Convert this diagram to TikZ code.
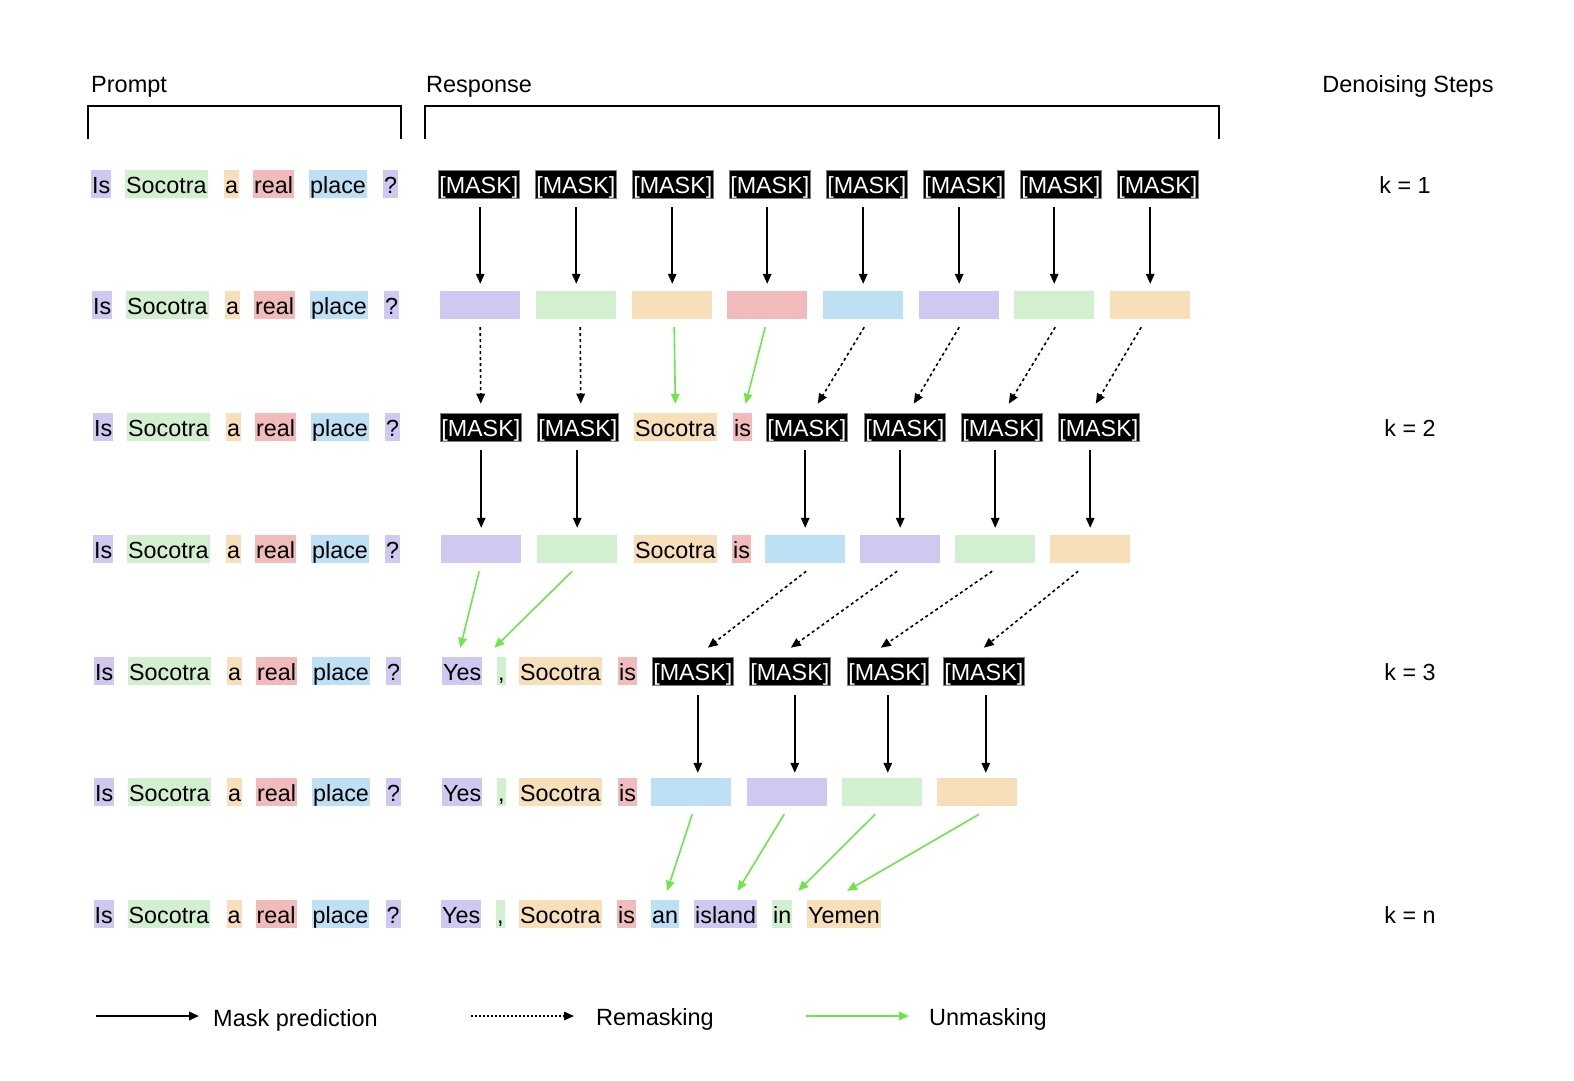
\documentclass[tikz,border=0pt]{standalone}
\usepackage{fontspec}
\setmainfont{Liberation Sans}
\usetikzlibrary{arrows.meta,calc}
\definecolor{cP}{RGB}{208,200,240}
\definecolor{cG}{RGB}{210,240,208}
\definecolor{cO}{RGB}{247,223,186}
\definecolor{cR}{RGB}{242,187,187}
\definecolor{cB}{RGB}{190,224,245}
\definecolor{cGreen}{RGB}{110,230,75}
\newcommand\tokfont{\fontsize{23.3}{28}\selectfont}
\newcommand\lblfont{\fontsize{23.5}{28}\selectfont}
\newcommand\linkarrow[5]{\draw[#1] ($(#2.south)+(#3,8)$) -- ($(#4.north)+(#5,-9)$);}
\begin{document}
\begin{tikzpicture}[x=1pt,y=-1pt,
  tok/.style={inner xsep=1pt,inner ysep=0pt,text height=20.5pt,text depth=2pt,minimum height=28pt,anchor=west,font=\tokfont},
  lbl/.style={tok,font=\lblfont},
  mask/.style={tok,fill=black,text=white,draw=gray,line width=0.6pt},
  blank/.style={anchor=west,minimum width=80pt,minimum height=28pt,inner sep=0pt},
  pred/.style={line width=1.6pt,-{Triangle[length=10pt,width=8.5pt]}},
  remask/.style={pred,dash pattern=on 3pt off 3pt},
  unmask/.style={pred,color=cGreen}]
\useasboundingbox[fill=white] (0,0) rectangle (1574,1080);

% headers
\node[lbl,anchor=base west] (lp) at (90,92) {Prompt};
\node[lbl,anchor=base west] (lr) at (425,92) {Response};
\node[lbl,anchor=base] (ld) at (1408,92) {Denoising Steps};
\draw[line width=1.6pt] (88,139) -- (88,106) -- (401,106) -- (401,139);
\draw[line width=1.6pt] (425,139) -- (425,106) -- (1219,106) -- (1219,139);

% prompt rows
\foreach \r/\y/\d in {1/184/0,2/305/1,3/427/2,4/549/2,5/671/3,6/792/3,7/914/2.5}{
  \node[tok,fill=cP] (p\r-1) at (91+\d,\y) {Is};
  \node[tok,fill=cG] (p\r-2) at (125+\d,\y) {Socotra};
  \node[tok,fill=cO] (p\r-3) at (224+\d,\y) {a};
  \node[tok,fill=cR] (p\r-4) at (253+\d,\y) {real};
  \node[tok,fill=cB] (p\r-5) at (309+\d,\y) {place};
  \node[tok,fill=cP] (p\r-6) at (383+\d,\y) {?};
}

% row 1
\foreach \i in {1,...,8} \node[mask] (r1-\i) at ({438+97*(\i-1)},184) {[MASK]};
% row 2
\foreach \i/\c/\x in {1/cP/440,2/cG/536,3/cO/632,4/cR/727,5/cB/823,6/cP/919,7/cG/1014,8/cO/1110}
  \node[blank,fill=\c] (r2-\i) at (\x,305) {};
\foreach \i in {1,...,8}
  \draw[pred] ($(r2-\i.north |- r1-\i.south)+(0,9)$) -- ($(r2-\i.north)+(0,-7)$);

% row 3
\node[mask] (r3-1) at (440,427) {[MASK]};
\node[mask] (r3-2) at (537,427) {[MASK]};
\node[tok,fill=cO] (r3-3) at (634,427) {Socotra};
\node[tok,fill=cR] (r3-4) at (733,427) {is};
\node[mask] (r3-5) at (766,427) {[MASK]};
\node[mask] (r3-6) at (864,427) {[MASK]};
\node[mask] (r3-7) at (961,427) {[MASK]};
\node[mask] (r3-8) at (1058,427) {[MASK]};
\linkarrow{remask}{r2-1}{0}{r3-1}{0}
\linkarrow{remask}{r2-2}{4}{r3-2}{3}
\linkarrow{unmask}{r2-3}{2}{r3-3}{0}
\linkarrow{unmask}{r2-4}{-2}{r3-4}{3}
\linkarrow{remask}{r2-5}{1}{r3-5}{11}
\linkarrow{remask}{r2-6}{0}{r3-6}{9}
\linkarrow{remask}{r2-7}{1}{r3-7}{7}
\linkarrow{remask}{r2-8}{-9}{r3-8}{-3}

% row 4
\node[blank,fill=cP] (r4-1) at (441,549) {};
\node[blank,fill=cG] (r4-2) at (537,549) {};
\node[tok,fill=cO] (r4-3) at (634,549) {Socotra};
\node[tok,fill=cR] (r4-4) at (732,549) {is};
\node[blank,fill=cB] (r4-5) at (765,549) {};
\node[blank,fill=cP] (r4-6) at (860,549) {};
\node[blank,fill=cG] (r4-7) at (955,549) {};
\node[blank,fill=cO] (r4-8) at (1050,549) {};
\foreach \s in {1,2,5,6,7,8}
  \draw[pred] ($(r4-\s.north |- r3-\s.south)+(0,9)$) -- ($(r4-\s.north)+(0,-7)$);

% row 5
\node[tok,fill=cP] (r5-1) at (442,671) {Yes};
\node[tok,fill=cG] (r5-2) at (497,671) {,};
\node[tok,fill=cO] (r5-3) at (519,671) {Socotra};
\node[tok,fill=cR] (r5-4) at (618,671) {is};
\node[mask] (r5-5) at (652,671) {[MASK]};
\node[mask] (r5-6) at (749,671) {[MASK]};
\node[mask] (r5-7) at (847,671) {[MASK]};
\node[mask] (r5-8) at (943,671) {[MASK]};
\linkarrow{unmask}{r4-1}{-2}{r5-1}{-2}
\linkarrow{unmask}{r4-2}{-5}{r5-2}{-7}
\linkarrow{remask}{r4-5}{1}{r5-5}{15}
\linkarrow{remask}{r4-6}{-3}{r5-6}{1}
\linkarrow{remask}{r4-7}{-3}{r5-7}{-7}
\linkarrow{remask}{r4-8}{-12}{r5-8}{0}

% row 6
\node[tok,fill=cP] (r6-1) at (442,792) {Yes};
\node[tok,fill=cG] (r6-2) at (497,792) {,};
\node[tok,fill=cO] (r6-3) at (519,792) {Socotra};
\node[tok,fill=cR] (r6-4) at (618,792) {is};
\node[blank,fill=cB] (r6-5) at (651,792) {};
\node[blank,fill=cP] (r6-6) at (747,792) {};
\node[blank,fill=cG] (r6-7) at (842,792) {};
\node[blank,fill=cO] (r6-8) at (937,792) {};
\foreach \s/\d in {5/5,6/5,7/0,8/2}
  \draw[pred] ($(r5-\s.south)+(\d,10)$) -- ($(r5-\s.south |- r6-\s.north)+(\d,-5)$);

% row 7
\node[tok,fill=cP] (r7-1) at (441,914) {Yes};
\node[tok,fill=cG] (r7-2) at (496,914) {,};
\node[tok,fill=cO] (r7-3) at (519,914) {Socotra};
\node[tok,fill=cR] (r7-4) at (617,914) {is};
\node[tok,fill=cB] (r7-5) at (651,914) {an};
\node[tok,fill=cP] (r7-6) at (694,914) {island};
\node[tok,fill=cG] (r7-7) at (772,914) {in};
\node[tok,fill=cO] (r7-8) at (807,914) {Yemen};
\linkarrow{unmask}{r6-5}{1}{r7-5}{2}
\linkarrow{unmask}{r6-6}{-3}{r7-6}{12}
\linkarrow{unmask}{r6-7}{-7}{r7-7}{16}
\linkarrow{unmask}{r6-8}{2}{r7-8}{3}

% step labels
\node[tok,anchor=center] (k1) at (1405,184) {k = 1};
\node[tok,anchor=center] (k2) at (1410,427) {k = 2};
\node[tok,anchor=center] (k3) at (1410,671) {k = 3};
\node[tok,anchor=center] (kn) at (1410,914) {k = n};

% legend
\coordinate (la1) at (96,1016);
\coordinate (lb1) at (199,1016);
\draw[pred,line width=2pt] (la1) -- (lb1);
\node[lbl] (lt1) at (212,1017) {Mask prediction};
\coordinate (la2) at (471,1016);
\coordinate (lb2) at (574,1016);
\draw[remask,line width=1.6pt,dash pattern=on 2pt off 2pt] (la2) -- (lb2);
\node[lbl] (lt2) at (595,1016) {Remasking};
\coordinate (la3) at (806,1016);
\coordinate (lb3) at (909,1016);
\draw[unmask,line width=2pt] (la3) -- (lb3);
\node[lbl] (lt3) at (928,1016) {Unmasking};
\end{tikzpicture}
\end{document}
